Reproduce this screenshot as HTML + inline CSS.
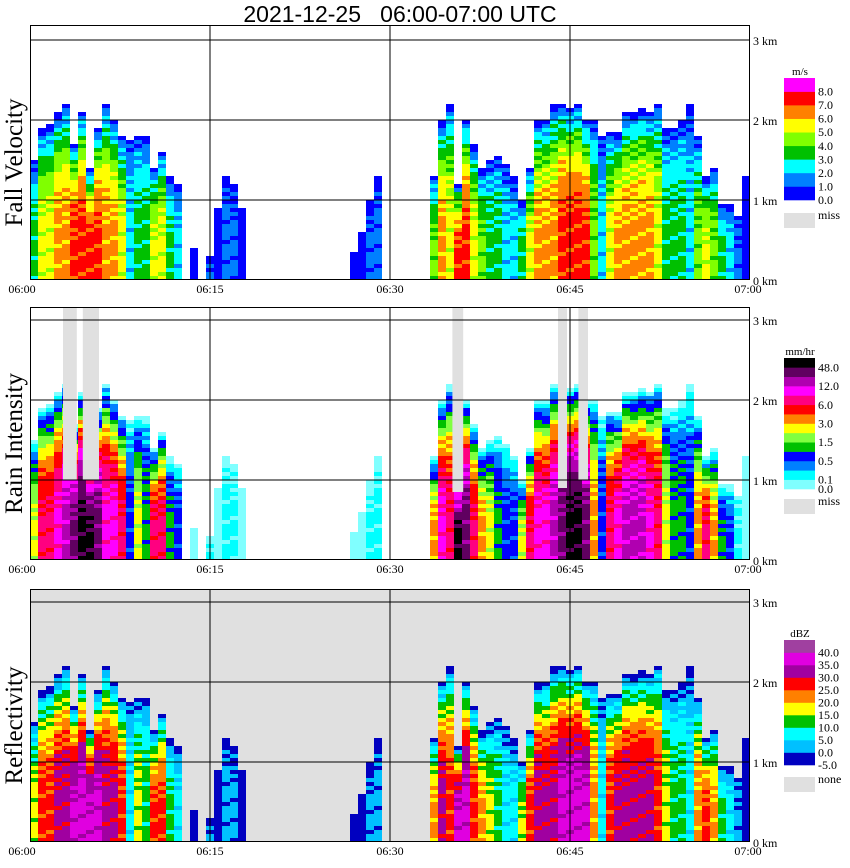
<!DOCTYPE html>
<html><head><meta charset="utf-8">
<style>
html,body{margin:0;padding:0;background:#fff;}
svg{display:block;}
text{font-family:"Liberation Serif",serif;}
</style></head>
<body>
<svg id="chart" width="850" height="868" viewBox="0 0 850 868" xmlns="http://www.w3.org/2000/svg">
<text x="400" y="22" text-anchor="middle" style="font-family:'Liberation Sans',sans-serif;font-size:23px">2021-12-25&#160;&#160;&#160;06:00-07:00 UTC</text>
</svg>
<script>
// ---- data (one value per 40-second column, 90 columns from 06:00 to 07:00) ----
const echoTop = [1.5,1.9,1.95,2.1,2.2,1.7,2.1,1.4,1.9,2.2,2.0,1.8,1.75,1.8,1.8,1.4,1.6,1.3,1.2,0,
 0.4,0,0.3,0.9,1.3,1.2,0.9,0,0,0, 0,0,0,0,0,0,0,0,0,0, 0.35,0.6,1.0,1.3,0,0,0,0,0,0,
 1.3,2.0,2.2,1.2,2.0,1.7,1.4,1.5,1.55,1.45, 1.3,1.0,1.4,2.0,2.0,2.2,2.2,2.15,2.2,2.0,
 2.0,1.8,1.85,1.85,2.1,2.1,2.15,2.1,2.2,1.9, 1.9,2.0,2.2,1.8,1.3,1.4,0.95,0.95,0.8,1.3];
const dbzCore = [4,6,6,7,7,8,8,8,8,7,7,6,2,4,3,6,6,3,2,0, 0,0,1,0,1,1,0,0,0,0, 0,0,0,0,0,0,0,0,0,0,
 0,0,1,1,0,0,0,0,0,0, 5,7,6,8,8,6,5,4,3,2, 2,4,6,7,7,7,8,8,8,8, 5,2,6,7,7,7,7,7,6,4, 3,3,2,5,6,5,3,2,1,0];
const rainCore = [6,9,9,10,11,12,13,13,12,10,10,9,3,6,4,9,9,4,3,0, 0,0,1,0,1,1,0,0,0,0, 0,0,0,0,0,0,0,0,0,0,
 0,0,1,1,0,0,0,0,0,0, 7,10,9,13,12,9,7,6,4,3, 3,6,9,10,10,11,12,13,13,12, 7,3,9,10,11,11,11,10,9,6, 4,4,3,7,9,7,4,3,1,0];
const velCore = [3,5,5,6,6,7,7,7,7,6,6,5,2,3,3,5,5,3,2,0, 0,0,1,0,1,1,0,0,0,0, 0,0,0,0,0,0,0,0,0,0,
 0,0,1,1,0,0,0,0,0,0, 4,6,5,7,7,5,4,3,3,2, 2,3,5,6,6,6,7,7,7,7, 4,2,5,6,6,6,6,6,5,3, 3,3,2,4,5,4,3,2,1,0];
const missStart = [2.75,4.4,35.2,44.0,45.7];   // minutes after 06:00
const missEnd   = [3.9,5.75,36.1,44.75,46.5];
const missBottom= [1.0,1.0,0.85,0.9,1.0];       // km
const timeTicks = ["06:00","06:15","06:30","06:45","07:00"];
const tickMinutes = [0,15,30,45,60];
const kmTicks = [0,1,2,3];
const velLabels = ["8.0","7.0","6.0","5.0","4.0","3.0","2.0","1.0","0.0"];
const rainLabels = ["48.0","12.0","6.0","3.0","1.5","0.5","0.1","0.0"];
const dbzLabels = ["40.0","35.0","30.0","25.0","20.0","15.0","10.0","5.0","0.0","-5.0"];

const velColors = ["#0000ff","#0080ff","#00ffff","#00c000","#80ff00","#ffff00","#ff8000","#ff0000","#ff00ff"];
const rainColors = ["#80ffff","#00ffff","#0080ff","#0000ff","#00c000","#80ff40","#ffff00","#ff8000","#ff0000","#ff0080","#ff00ff","#b000b0","#600060","#000000"];
const dbzColors = ["#0000c0","#00c0ff","#00ffff","#00c000","#ffff00","#ff8000","#ff0000","#a000a0","#e000e0","#a040a0"];

const svg = document.getElementById('chart');
const NS = "http://www.w3.org/2000/svg";
const X0 = 30, X1 = 750, PXKM = 80;
function xScale(min){ return X0 + (X1-X0)*min/60; }
function mk(tag, attrs){ const e=document.createElementNS(NS,tag); for(const k in attrs) e.setAttribute(k,attrs[k]); svg.appendChild(e); return e; }

const panels = [
 {name:"fall-velocity", title:"Fall Velocity", top:25, base:280, bg:"#ffffff", core:velCore, colors:velColors, unit:"m/s", labels:velLabels, legTop:78, legBot:200, missLabel:"miss", missY:213},
 {name:"rain-intensity", title:"Rain Intensity", top:307, base:560, bg:"#ffffff", core:rainCore, colors:rainColors, unit:"mm/hr", labels:rainLabels, legTop:358, legBot:489, missLabel:"miss", missY:499},
 {name:"reflectivity", title:"Reflectivity", top:589, base:842, bg:"#e0e0e0", core:dbzCore, colors:dbzColors, unit:"dBZ", labels:dbzLabels, legTop:640, legBot:765, missLabel:"none", missY:777}
];
function yScale(p, km){ return p.base - km*PXKM; }

panels.forEach((p,pi)=>{
  const bg = mk('rect',{x:X0,y:p.top,width:X1-X0,height:p.base-p.top,fill:p.bg});
  
  
  const g = document.createElementNS(NS,'g'); svg.appendChild(g);
  
  
  const n = echoTop.length, dm = 60/n, dh = 0.05;
  for(let i=0;i<n;i++){
    const top = echoTop[i]; if(top<=0) continue;
    const core = p.core[i];
    const x = xScale(i*dm), w = xScale((i+1)*dm)-x;
    let runStart=0, runLvl=null;
    const cells = Math.max(1,Math.round(top/dh));
    const lv=[];
    for(let k=0;k<cells;k++){
      const r = (k+0.5)*dh/top;
      const tex = (((i*7+k*13+pi*5)%5)-2)*0.25;
      let v = core*(1-Math.pow(r,3.2)) + tex;
      if(k===cells-1) v = Math.min(v,0.4);
      lv.push(Math.max(0,Math.min(core,Math.round(v))));
    }
    lv.push(-1);
    for(let k=0;k<lv.length;k++){
      if(runLvl===null){runLvl=lv[k];runStart=k;continue;}
      if(lv[k]!==runLvl){
        const yT = yScale(p,k*dh), yB = yScale(p,runStart*dh);
        const c = document.createElementNS(NS,'rect');
        c.setAttribute('x',x); c.setAttribute('y',yT); c.setAttribute('width',w); c.setAttribute('height',yB-yT);
        c.setAttribute('fill',p.colors[Math.min(runLvl,p.colors.length-1)]);
        
        
        g.appendChild(c);
        runLvl=lv[k]; runStart=k;
      }
    }
  }
  if(p.name==="rain-intensity"){
    for(let m=0;m<missStart.length;m++){
      const x=xScale(missStart[m]);
      const r = mk('rect',{x:x,y:p.top,width:xScale(missEnd[m])-x,height:yScale(p,missBottom[m])-p.top,fill:"#e0e0e0"});
      
      
    }
  }
  kmTicks.forEach(km=>{
    if(km===0) return;
    const l = mk('line',{x1:X0,x2:X1,y1:yScale(p,km),y2:yScale(p,km),stroke:"#000","stroke-width":1});
    
    
  });
  tickMinutes.forEach(mn=>{
    if(mn===0||mn===60) return;
    const l = mk('line',{x1:xScale(mn),x2:xScale(mn),y1:p.top,y2:p.base,stroke:"#000","stroke-width":1});
    
    
  });
  const fr = mk('rect',{x:X0+0.5,y:p.top+0.5,width:X1-X0-1,height:p.base-p.top-1,fill:"none",stroke:"#000","stroke-width":1});
  
  
  kmTicks.forEach(km=>{
    const t = mk('text',{x:753,y:yScale(p,km)+5,"font-size":12});
    t.textContent = km+" km";
    
    
  });
  timeTicks.forEach((lab,j)=>{
    const t = mk('text',{x:j===0?22:(j===4?748:xScale(tickMinutes[j])),y:p.base+13,"font-size":12,"text-anchor":"middle"});
    t.textContent = lab;
    
    
  });
  const yt = mk('text',{x:0,y:0,"font-size":25,"text-anchor":"middle",transform:`translate(22,${(p.top+p.base)/2+10}) rotate(-90)`});
  yt.textContent = p.title;
  
  
  const nc = p.colors.length, bh=(p.legBot-p.legTop)/nc;
  for(let c=0;c<nc;c++){
    const r = mk('rect',{x:784,y:p.legBot-(c+1)*bh,width:31,height:bh+0.3,fill:p.colors[c]});
    
    
  }
  const ut = mk('text',{x:800,y:p.legTop-3,"font-size":11,"text-anchor":"middle"});
  ut.textContent = p.unit;
  
  
  const nl = p.labels.length;
  p.labels.forEach((lab,j)=>{
    let y;
    if(p.name==="rain-intensity"){ y = j===nl-1 ? p.legBot+4 : p.legTop + (2*j+1)*bh + 4; }
    else if(p.name==="reflectivity"){ y = p.legTop + (j+1)*bh + 4; }
    else { y = p.legBot - (nl-1-j)*bh + 4; }
    const t = mk('text',{x:818,y:y,"font-size":12});
    t.textContent = lab;
    
    
  });
  const ms = mk('rect',{x:784,y:p.missY,width:31,height:15,fill:"#e0e0e0"});
  
  
  const mt = mk('text',{x:818,y:p.missY+6,"font-size":12});
  mt.textContent = p.missLabel;
  
  
});
</script>
</body></html>
